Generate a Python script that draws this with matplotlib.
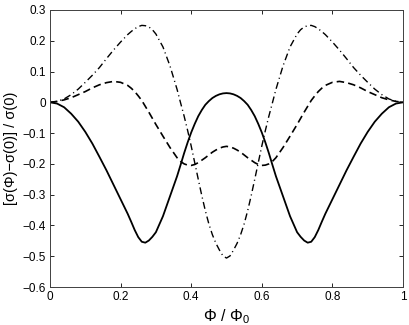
import matplotlib
matplotlib.use("Agg")
import matplotlib.pyplot as plt

plt.rcParams['font.family'] = ['Liberation Sans', 'DejaVu Sans']
plt.rcParams['mathtext.fontset'] = 'custom'
plt.rcParams['mathtext.rm'] = 'Liberation Sans'
plt.rcParams['mathtext.it'] = 'Liberation Sans'

phi = [0.00, 0.02, 0.04, 0.06, 0.08, 0.10, 0.12, 0.14, 0.16, 0.18, 0.20,
       0.22, 0.23, 0.24, 0.25, 0.26, 0.27, 0.28, 0.29, 0.30, 0.32, 0.34,
       0.36, 0.37, 0.38, 0.39, 0.40, 0.41, 0.42, 0.43, 0.44, 0.45, 0.46, 0.47, 0.48, 0.49,
       0.50,
       0.51, 0.52, 0.53, 0.54, 0.55, 0.56, 0.57, 0.58, 0.59, 0.60, 0.61, 0.62, 0.63, 0.64,
       0.66, 0.68, 0.70, 0.71, 0.72, 0.73, 0.74, 0.75, 0.76, 0.77, 0.78,
       0.80, 0.82, 0.84, 0.86, 0.88, 0.90, 0.92, 0.94, 0.96, 0.98, 1.00]

solid = [0.000, -0.004, -0.016, -0.037, -0.063, -0.096, -0.134, -0.177, -0.221, -0.268, -0.315,
         -0.362, -0.388, -0.415, -0.438, -0.453, -0.456, -0.449, -0.437, -0.422, -0.370, -0.305,
         -0.240, -0.203, -0.165, -0.130, -0.098, -0.070, -0.045, -0.025, -0.008, 0.004, 0.014, 0.021, 0.026, 0.029,
         0.030,
         0.029, 0.026, 0.021, 0.014, 0.004, -0.008, -0.025, -0.045, -0.070, -0.098, -0.130, -0.165, -0.203, -0.240,
         -0.305, -0.370, -0.422, -0.437, -0.449, -0.456, -0.453, -0.438, -0.415, -0.388, -0.362,
         -0.315, -0.268, -0.221, -0.177, -0.134, -0.096, -0.063, -0.037, -0.016, -0.004, 0.000]

dashed = [0.000, 0.003, 0.008, 0.015, 0.025, 0.035, 0.047, 0.057, 0.064, 0.068, 0.065,
          0.055, 0.046, 0.035, 0.021, 0.006, -0.013, -0.032, -0.052, -0.072, -0.110, -0.147,
          -0.180, -0.192, -0.200, -0.204, -0.205, -0.202, -0.196, -0.188, -0.180, -0.171, -0.162, -0.155, -0.149, -0.145,
          -0.143,
          -0.145, -0.149, -0.155, -0.162, -0.171, -0.180, -0.188, -0.196, -0.202, -0.205, -0.204, -0.200, -0.192, -0.180,
          -0.147, -0.110, -0.072, -0.052, -0.032, -0.013, 0.006, 0.021, 0.035, 0.046, 0.055,
          0.065, 0.068, 0.064, 0.057, 0.047, 0.035, 0.025, 0.015, 0.008, 0.003, 0.000]

dashdot = [0.000, 0.003, 0.011, 0.025, 0.043, 0.065, 0.088, 0.113, 0.142, 0.170, 0.196,
           0.220, 0.230, 0.239, 0.246, 0.250, 0.249, 0.245, 0.236, 0.222, 0.180, 0.118,
           0.042, -0.002, -0.045, -0.092, -0.142, -0.196, -0.250, -0.303, -0.352, -0.395, -0.430, -0.458, -0.480, -0.499,
           -0.506,
           -0.499, -0.480, -0.458, -0.430, -0.395, -0.352, -0.303, -0.250, -0.196, -0.142, -0.092, -0.045, -0.002, 0.042,
           0.118, 0.180, 0.222, 0.236, 0.245, 0.249, 0.250, 0.246, 0.239, 0.230, 0.220,
           0.196, 0.170, 0.142, 0.113, 0.088, 0.065, 0.043, 0.025, 0.011, 0.003, 0.000]

xticks = [0, 0.2, 0.4, 0.6, 0.8, 1]
xticklabels = ['0', '0.2', '0.4', '0.6', '0.8', '1']
yticks = [-0.6, -0.5, -0.4, -0.3, -0.2, -0.1, 0, 0.1, 0.2, 0.3]
yticklabels = ['\u22120.6', '\u22120.5', '\u22120.4', '\u22120.3', '\u22120.2', '\u22120.1', '0', '0.1', '0.2', '0.3']

fig = plt.figure(figsize=(4.09, 3.25), dpi=100)
ax = fig.add_axes([50/409, 38/325, 353/409, 277/325])

ax.plot(phi, solid, color='black', lw=1.3, ls='-')
ax.plot(phi, dashed, color='black', lw=1.2, ls=(0, (4.5, 2.5)))
ax.plot(phi, dashdot, color='black', lw=1.0, ls=(0, (5, 2.5, 0.8, 2.5)))

ax.set_xlim(0, 1)
ax.set_ylim(-0.6, 0.3)
ax.set_xticks(xticks)
ax.set_xticklabels(xticklabels)
ax.set_yticks(yticks)
ax.set_yticklabels(yticklabels)
ax.tick_params(direction='in', top=True, right=True, labelsize=8.5, length=3, width=0.6, pad=3)
for s in ax.spines.values():
    s.set_linewidth(0.7)
    s.set_color('#404040')

ax.set_xlabel('\u03a6 / \u03a6$_0$', fontsize=11.5, labelpad=3)
ax.set_ylabel('[\u03c3(\u03a6)\u2212\u03c3(0)] / \u03c3(0)', fontsize=10.5, labelpad=3)

fig.savefig('out.png', dpi=100)
